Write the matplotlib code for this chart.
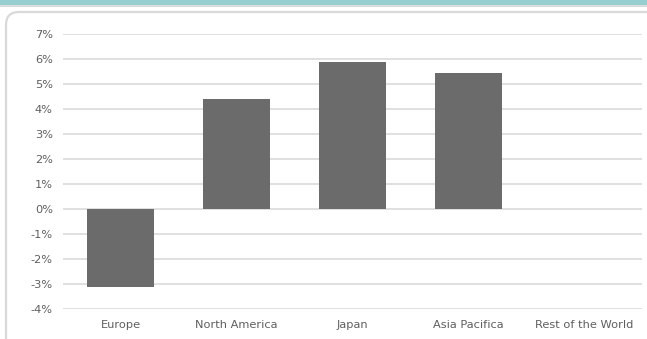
import matplotlib
matplotlib.use("Agg")
import matplotlib.pyplot as plt
from matplotlib.patches import FancyBboxPatch, Rectangle
from matplotlib.ticker import FuncFormatter, MultipleLocator

categories = ["Europe", "North America", "Japan", "Asia Pacifica", "Rest of the World"]
values = [-3.12, 4.4, 5.88, 5.44, 0.0]

plt.rcParams['font.family'] = ['DejaVu Sans']

W, H = 647, 339
fig = plt.figure(figsize=(W/100, H/100), dpi=100)
fig.patch.set_facecolor("white")

# top teal strip
fig.patches.append(Rectangle((0, 1 - 5/H), 1, 5/H, transform=fig.transFigure,
                             facecolor="#96cfcf", edgecolor="none", zorder=0))
fig.patches.append(Rectangle((0, 1 - 7/H), 1, 2/H, transform=fig.transFigure,
                             facecolor="#dcdcdc", edgecolor="none", zorder=0))
# rounded frame
fig.patches.append(FancyBboxPatch((6/W, -20/H), (W + 20)/W, (H - 12 + 20)/H,
                                  boxstyle="round,pad=0,rounding_size=0.02",
                                  transform=fig.transFigure, facecolor="none",
                                  edgecolor="#d9d9d9", linewidth=1.6, zorder=1,
                                  mutation_aspect=W/H))

x0, x1 = 62.5, 642
y_top, y_bot = 34, 309
ax = fig.add_axes([x0/W, 1 - y_bot/H, (x1 - x0)/W, (y_bot - y_top)/H])
ax.set_facecolor("none")

xs = list(range(len(categories)))
ax.bar(xs, values, width=0.58, color="#6b6b6b", zorder=3)
ax.set_xlim(-0.5, len(categories) - 0.5)
ax.set_ylim(-4, 7)
ax.yaxis.set_major_locator(MultipleLocator(1))
ax.yaxis.set_major_formatter(FuncFormatter(lambda v, p: f"{int(round(v))}%"))
ax.grid(axis="y", color="#dadada", linewidth=1.2, zorder=0)
for s in ax.spines.values():
    s.set_visible(False)
ax.tick_params(axis="both", length=0, labelsize=8.2, colors="#5f5f5f")
ax.tick_params(axis="y", pad=7)
ax.tick_params(axis="x", pad=8)
ax.set_xticks(xs)
ax.set_xticklabels(categories)

fig.savefig("out.png", dpi=100)
